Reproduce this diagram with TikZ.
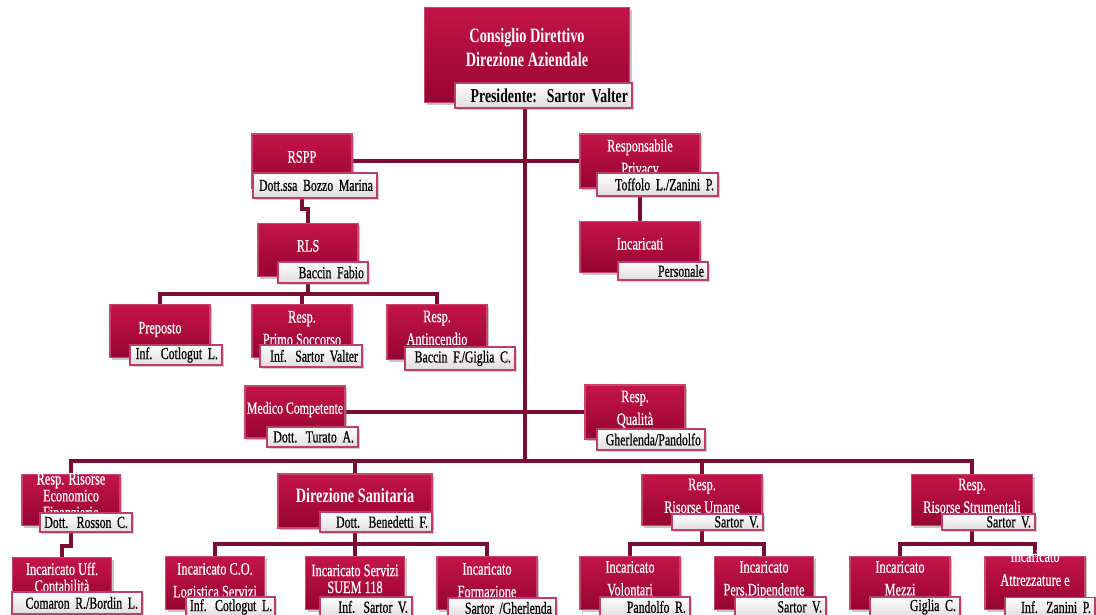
\documentclass[tikz,border=0pt]{standalone}
\usepackage{fontspec}
\setmainfont{Liberation Serif}[FakeStretch=0.7, UprightFeatures={FakeBold=0.6}]
\usepackage{tikz}
\usetikzlibrary{shadows,backgrounds}
\definecolor{posttop}{RGB}{196,20,72}
\definecolor{postbot}{RGB}{150,4,50}
\definecolor{postline}{RGB}{200,70,110}
\definecolor{tagline}{RGB}{190,62,104}
\definecolor{taggray}{RGB}{226,220,223}
\definecolor{wirered}{RGB}{124,12,52}
\tikzstyle{unit_box} = [draw=postline, line width=0.8pt, top color=posttop, bottom color=postbot, text=white, align=center, inner xsep=1pt, inner ysep=0pt, text depth=6pt, font=\fontsize{12.5}{16.2}\selectfont, drop shadow={shadow xshift=1.5pt, shadow yshift=-1.5pt, opacity=0.45}]
\tikzstyle{name_tag} = [draw=tagline, line width=0.9pt, top color=white, bottom color=taggray, text=black, align=right, inner xsep=0.1cm, inner ysep=0.3pt, font=\fontsize{12}{13}\selectfont, anchor=south east, execute at begin node={\leavevmode\hbox\bgroup}, execute at end node={\egroup}, drop shadow={shadow xshift=1.2pt, shadow yshift=-1.2pt, opacity=0.35}]
\tikzstyle{wire} = [draw=wirered, line width=2.8pt]

\begin{document}
\begin{tikzpicture}[x=0.025cm, y=-0.025cm]
    \useasboundingbox (0,0) rectangle (1096,615);

    % vertice
    \node (cons) [unit_box, minimum width=5.125cm, minimum height=2.375cm, text depth=11pt, font=\fontsize{14.5}{17}\selectfont\bfseries] at (527,55) {Consiglio Direttivo\\Direzione Aziendale};
    \node (cons_tag) [name_tag, text width=4.225cm, minimum height=0.625cm, font=\fontsize{14}{15}\selectfont\bfseries, at={(cons.south east)}, shift={(2.5,5.5)}] {Presidente: Sartor Valter};

    % sicurezza e privacy
    \node (rspp) [unit_box, minimum width=2.5cm, minimum height=1.35cm] at (302,161) {RSPP};
    \node (rspp_tag) [name_tag, text width=2.9cm, minimum height=0.625cm, at={(rspp.south east)}, shift={(25,10)}] {Dott.ssa Bozzo Marina};
    \node (priv) [unit_box, minimum width=3cm, minimum height=1.35cm] at (640,161) {Responsabile\\Privacy};
    \node (priv_tag) [name_tag, text width=2.825cm, minimum height=0.575cm, at={(priv.south east)}, shift={(18,8)}] {Toffolo L./Zanini P.};
    \node (inc) [unit_box, minimum width=3cm, minimum height=1.275cm, text depth=4.7pt] at (640,247) {Incaricati};
    \node (inc_tag) [name_tag, text width=2.05cm, minimum height=0.45cm, at={(inc.south east)}, shift={(8,7.5)}] {Personale};
    \node (rls) [unit_box, minimum width=2.5cm, minimum height=1.325cm] at (308,250) {RLS};
    \node (rls_tag) [name_tag, text width=2.05cm, minimum height=0.525cm, at={(rls.south east)}, shift={(10,6.5)}] {Baccin Fabio};

    \node (prep) [unit_box, minimum width=2.5cm, minimum height=1.325cm, text depth=4.7pt] at (160,331) {Preposto};
    \node (prep_tag) [name_tag, text width=2.1cm, minimum height=0.5cm, at={(prep.south east)}, shift={(12,7.5)}] {Inf. Cotlogut L.};
    \node (socc) [unit_box, minimum width=2.5cm, minimum height=1.325cm, text depth=4pt] at (302,331) {Resp.\\Primo Soccorso};
    \node (socc_tag) [name_tag, text width=2.35cm, minimum height=0.55cm, at={(socc.south east)}, shift={(10,9.5)}] {Inf. Sartor Valter};
    \node (anti) [unit_box, minimum width=2.5cm, minimum height=1.375cm] at (437,332) {Resp.\\Antincendio};
    \node (anti_tag) [name_tag, text width=2.55cm, minimum height=0.575cm, at={(anti.south east)}, shift={(28,10.5)}] {Baccin F./Giglia C.};

    \node (med) [unit_box, minimum width=2.5cm, minimum height=1.3cm, font=\fontsize{12}{16}\selectfont] at (295,412) {Medico Competente};
    \node (med_tag) [name_tag, text width=2.075cm, minimum height=0.5cm, at={(med.south east)}, shift={(13,9)}] {Dott. Turato A.};
    \node (qual) [unit_box, minimum width=2.5cm, minimum height=1.35cm] at (635,412) {Resp.\\Qualità};
    \node (qual_tag) [name_tag, text width=2.5cm, minimum height=0.525cm, at={(qual.south east)}, shift={(20,11)}] {Gherlenda/Pandolfo};

    % aree
    \node (ref) [unit_box, minimum width=2.45cm, minimum height=1.275cm, text height=26pt, text depth=0pt, font=\fontsize{12.5}{12}\selectfont] at (71,500) {Resp. Risorse\\Economico\\Finanziario};
    \node (ref_tag) [name_tag, text width=2.1cm, minimum height=0.475cm, at={(ref.south east)}, shift={(12,6.5)}] {Dott. Rosson C.};
    \node (dirs) [unit_box, minimum width=3.85cm, minimum height=1.35cm, text depth=7.5pt, font=\fontsize{14.5}{16}\selectfont\bfseries] at (355,501) {Direzione Sanitaria};
    \node (dirs_tag) [name_tag, text width=2.6cm, minimum height=0.5cm, at={(dirs.south east)}, shift={(0,4)}] {Dott. Benedetti F.};
    \node (rum) [unit_box, minimum width=3cm, minimum height=1.275cm] at (702,500) {Resp.\\Risorse Umane};
    \node (rum_tag) [name_tag, text width=2.075cm, minimum height=0.4cm, at={(rum.south east)}, shift={(1,4.5)}] {Sartor V.};
    \node (rst) [unit_box, minimum width=3.025cm, minimum height=1.275cm] at (972,500) {Resp.\\Risorse Strumentali};
    \node (rst_tag) [name_tag, text width=2.125cm, minimum height=0.4cm, at={(rst.south east)}, shift={(2.5,4.5)}] {Sartor V.};

    % incaricati
    \node (cont) [unit_box, minimum width=2.475cm, minimum height=1.275cm, text depth=8.2pt, font=\fontsize{12.5}{12}\selectfont] at (62,583) {Incaricato Uff.\\Contabilità};
    \node (cont_tag) [name_tag, text width=3.05cm, minimum height=0.55cm, at={(cont.south east)}, shift={(30.5,5.5)}] {Comaron R./Bordin L.};
    \node (co) [unit_box, minimum width=2.475cm, minimum height=1.325cm, text depth=4pt] at (215,583) {Incaricato C.O.\\Logistica Servizi};
    \node (co_tag) [name_tag, text width=2.025cm, minimum height=0.5cm, at={(co.south east)}, shift={(10.5,7.5)}] {Inf. Cotlogut L.};
    \node (suem) [unit_box, minimum width=2.475cm, minimum height=1.325cm, font=\fontsize{12.5}{12}\selectfont] at (355,583) {Incaricato Servizi\\SUEM 118};
    \node (suem_tag) [name_tag, text width=2.1cm, minimum height=0.5cm, at={(suem.south east)}, shift={(7.5,7.5)}] {Inf. Sartor V.};
    \node (form) [unit_box, minimum width=2.5cm, minimum height=1.325cm, text depth=4pt] at (487,583) {Incaricato\\Formazione};
    \node (form_tag) [name_tag, text width=2.5cm, minimum height=0.5cm, at={(form.south east)}, shift={(19,8.5)}] {Sartor /Gherlenda};
    \node (vol) [unit_box, minimum width=2.5cm, minimum height=1.325cm, text depth=6.8pt] at (630,583) {Incaricato\\Volontari};
    \node (vol_tag) [name_tag, text width=2.05cm, minimum height=0.5cm, at={(vol.south east)}, shift={(10,7.5)}] {Pandolfo R.};
    \node (pd) [unit_box, minimum width=2.475cm, minimum height=1.325cm, text depth=6.8pt] at (764,583) {Incaricato\\Pers.Dipendente};
    \node (pd_tag) [name_tag, text width=2.075cm, minimum height=0.5cm, at={(pd.south east)}, shift={(12.5,7.5)}] {Sartor V.};
    \node (mez) [unit_box, minimum width=2.5cm, minimum height=1.325cm, text depth=6.8pt] at (900,583) {Incaricato\\Mezzi};
    \node (mez_tag) [name_tag, text width=2.05cm, minimum height=0.5cm, at={(mez.south east)}, shift={(10,7.5)}] {Giglia C.};
    \node (att) [unit_box, minimum width=2.5cm, minimum height=1.325cm, text height=38pt, text depth=0pt, font=\fontsize{12.5}{17}\selectfont] at (1035,583) {Incaricato\\Attrezzature e\\Tecnologie};
    \node (att_tag) [name_tag, text width=2.05cm, minimum height=0.5cm, at={(att.south east)}, shift={(10,7.5)}] {Inf. Zanini P.};

    % collegamenti
    \begin{scope}[on background layer]
        \coordinate (hub) at (525,461);
        \draw [wire] (cons.south -| hub) -- (hub);
        \draw [wire] (rspp.east) -- (rspp.east -| priv.west);
        \draw [wire] (priv.south) -- (inc.north);
        \draw [wire] (rspp.south) -- ++(0,20) -| (rls.north);
        \draw [wire] (rls.south) -- ++(0,17) coordinate (rls_bus);
        \draw [wire] (rls_bus) -| (prep.north);
        \draw [wire] (rls_bus) -| (socc.north);
        \draw [wire] (rls_bus) -| (anti.north);
        \draw [wire] (med.east) -- (med.east -| qual.west);
        \draw [wire] (hub) -| (ref.north);
        \draw [wire] (hub) -| (dirs.north);
        \draw [wire] (hub) -| (rum.north);
        \draw [wire] (hub) -| (rst.north);
        \draw [wire] (ref.south) -- ++(0,20) -| (cont.north);
        \draw [wire] (dirs.south) -- ++(0,15) coordinate (dirs_bus);
        \draw [wire] (dirs_bus) -| (co.north);
        \draw [wire] (dirs_bus) -| (suem.north);
        \draw [wire] (dirs_bus) -| (form.north);
        \draw [wire] (rum.south) -- ++(0,18) coordinate (rum_bus);
        \draw [wire] (rum_bus) -| (vol.north);
        \draw [wire] (rum_bus) -| (pd.north);
        \draw [wire] (rst.south) -- ++(0,18) coordinate (rst_bus);
        \draw [wire] (rst_bus) -| (mez.north);
        \draw [wire] (rst_bus) -| (att.north);
    \end{scope}
\end{tikzpicture}
\end{document}
